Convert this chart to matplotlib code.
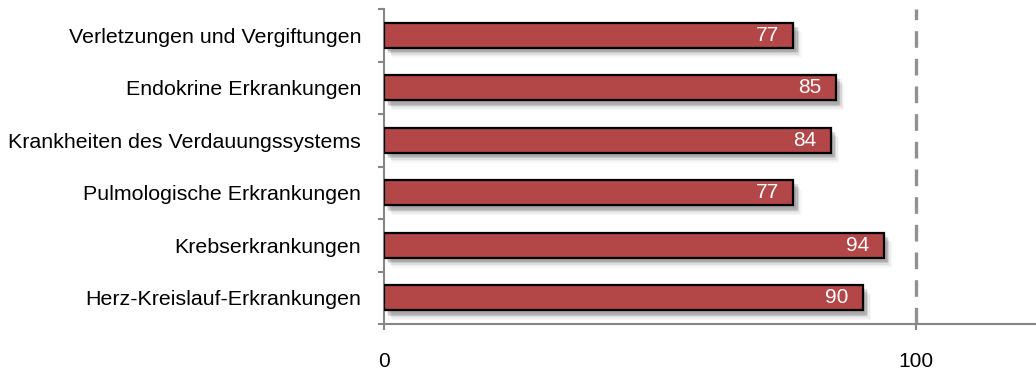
import matplotlib
matplotlib.use("Agg")
import matplotlib.pyplot as plt
import matplotlib.patheffects as pe

categories = ["Herz-Kreislauf-Erkrankungen", "Krebserkrankungen", "Pulmologische Erkrankungen",
              "Krankheiten des Verdauungssystems", "Endokrine Erkrankungen", "Verletzungen und Vergiftungen"]
values = [90, 94, 77, 84, 85, 77]
xticks = [0, 100]
reference = 100

plt.rcParams['font.family'] = ['Liberation Sans', 'DejaVu Sans']

fig = plt.figure(figsize=(10.36, 3.71), dpi=100)
ax = fig.add_axes([384/1036, 1-324/371, 1-384/1036, 315/371])

ypos = list(range(len(categories)))
bars = ax.barh(ypos, values, height=0.48, color='#B34646', edgecolor='black', linewidth=1.6, zorder=3)
shadow = []
for dx, dy, a in [(1, -1, 0.06), (2, -2, 0.08), (3, -3, 0.10), (3, -4, 0.10), (4, -5, 0.08),
                  (5, -6, 0.06), (6, -7, 0.04), (2, -4, 0.06), (4, -3, 0.06)]:
    shadow.append(pe.SimplePatchShadow(offset=(dx, dy), shadow_rgbFace='#444444', alpha=a))
for b in bars:
    b.set_path_effects(shadow + [pe.Normal()])
for y, v in zip(ypos, values):
    ax.text(v - 2.7, y, str(v), color='white', ha='right', va='center', fontsize=15, zorder=4)

ax.axvline(reference, color='#919191', linestyle=(0, (5, 3.3)), linewidth=2.4, zorder=2)

ax.set_xlim(0, 122.6)
ax.set_ylim(-0.5, len(categories) - 0.5)
ax.set_yticks(ypos)
ax.set_yticklabels(categories, fontsize=15.4)
ax.tick_params(axis='y', length=0, pad=16.5)
ax.set_yticks([i - 0.5 for i in range(len(categories) + 1)], minor=True)
ax.tick_params(axis='y', which='minor', length=4, color='#868686', width=1.5, direction='out')
ax.set_xticks(xticks)
ax.set_xticklabels([str(t) for t in xticks], fontsize=15)
ax.tick_params(axis='x', length=4, color='#868686', width=1.5, direction='out', pad=16)

for s in ['top', 'right']:
    ax.spines[s].set_visible(False)
for s in ['left', 'bottom']:
    ax.spines[s].set_color('#868686')
    ax.spines[s].set_linewidth(1.5)

fig.savefig('out.png', dpi=100)
